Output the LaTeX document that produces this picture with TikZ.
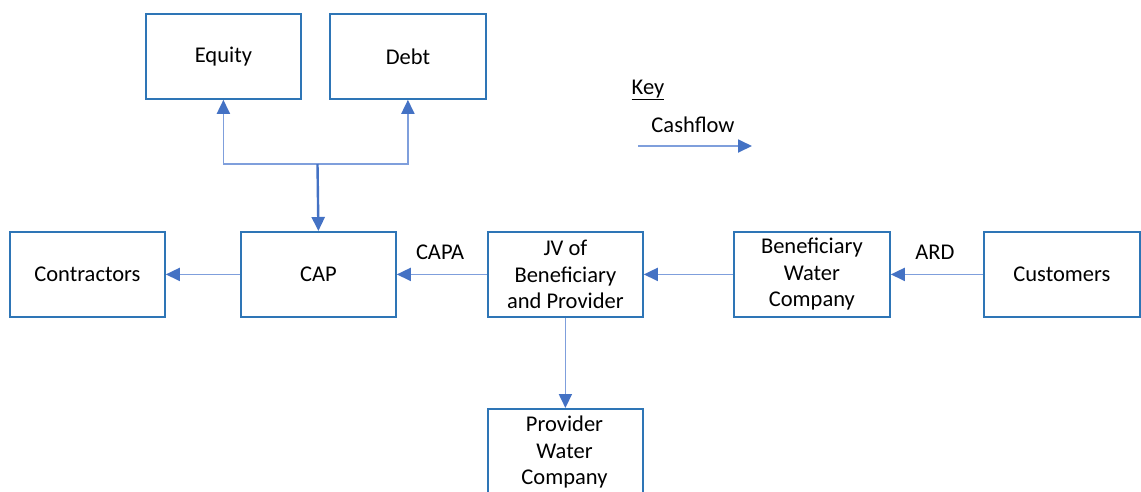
\documentclass[tikz,border=0pt]{standalone}
\usepackage{fontspec}
\setmainfont{Carlito}
\usetikzlibrary{arrows.meta}
\definecolor{boxblue}{HTML}{2E75B6}
\definecolor{arrblue}{HTML}{4472C4}
\definecolor{linblue}{HTML}{7F9FDC}
\begin{document}
\begin{tikzpicture}[x=1pt,y=-1pt,
  box/.style={draw=boxblue,line width=1.8pt,minimum width=155pt,minimum height=85pt,inner sep=0pt,align=center,font=\fontsize{22.5}{26.5}\selectfont,anchor=north west},
  flow/.style={draw=linblue,line width=1.8pt,-{Triangle[length=14pt,width=13pt,fill=arrblue,color=arrblue]}},
  lbl/.style={font=\fontsize{22.5}{26.5}\selectfont,inner sep=0pt}]
\useasboundingbox (0,0) rectangle (1141,491);
\begin{scope}
\clip (0,0) rectangle (1141,491);
\node[box] (eq) at (145,13) {Equity};
\node[box,minimum width=156pt] (debt) at (329,13) {Debt};
\node[box] (con) at (9,231) {Contractors};
\node[box] (cap) at (240,231) {CAP};
\node[box] (jv) at (487,231) {JV of\\Beneficiary\\and Provider};
\node[box,minimum width=156pt] (ben) at (733,231) {Beneficiary\\Water\\Company};
\node[box,minimum width=156pt] (cus) at (983,231) {Customers};
\node[box,minimum height=120pt] (prov) at (487,408) {};
\node[lbl,align=center,anchor=north] (provtxt) at (564.5,416) {Provider\\Water\\Company};
\end{scope}
\coordinate (j) at (317.5,164);
\draw[flow] (j) -| (eq.south);
\draw[flow] (j) -| (debt.south);
\draw[flow,draw=arrblue,line width=2.4pt] (j) -- (cap.north);
\draw[flow] (cap.west) -- (con.east);
\draw[flow] (jv.west) -- (cap.east);
\draw[flow] (ben.west) -- (jv.east);
\draw[flow] (cus.west) -- (ben.east);
\draw[flow] (jv.south) -- (prov.north);
\node[lbl] (capa) at (440,252) {CAPA};
\node[lbl] (ard) at (935,252) {ARD};
\node[lbl] (key) at (648,90) {\underline{Key}};
\node[lbl] (cf) at (693,125) {Cashflow};
\coordinate (k1) at (638,146);
\coordinate (k2) at (752,146);
\draw[flow] (k1) -- (k2);
\end{tikzpicture}
\end{document}
